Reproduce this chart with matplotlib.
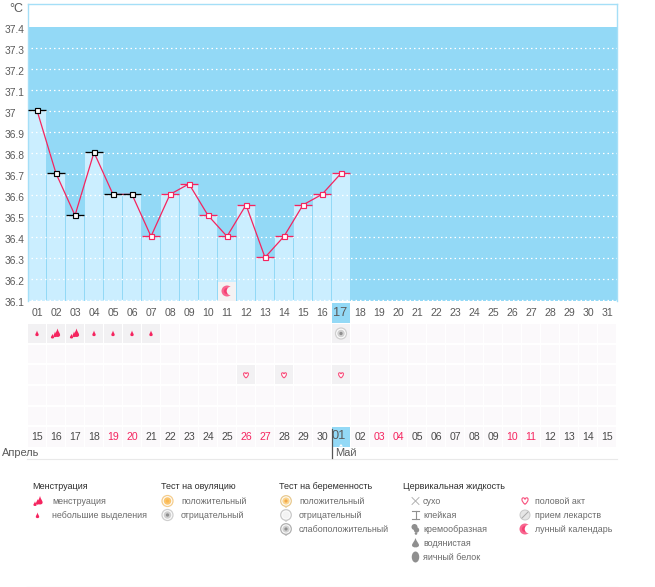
import matplotlib
matplotlib.use("Agg")
import matplotlib.pyplot as plt
from matplotlib.patches import Rectangle, Circle, PathPatch, Polygon, Ellipse
from matplotlib.path import Path

W, H = 655, 587
plt.rcParams['font.family'] = ['Liberation Sans', 'DejaVu Sans']

# ---- data ----
days = list(range(1, 18))
temps = [37.0, 36.7, 36.5, 36.8, 36.6, 36.6, 36.4, 36.6, 36.65, 36.5, 36.4, 36.55, 36.3, 36.4, 36.55, 36.6, 36.7]
n_black = 6  # first days drawn with black markers
y_ticks = [37.4, 37.3, 37.2, 37.1, 37.0, 36.9, 36.8, 36.7, 36.6, 36.5, 36.4, 36.3, 36.2, 36.1]
y_labels = ['37.4', '37.3', '37.2', '37.1', '37', '36.9', '36.8', '36.7', '36.6', '36.5', '36.4', '36.3', '36.2', '36.1']
top_dates = ['%02d' % d for d in range(1, 32)]
bottom_dates = ['15', '16', '17', '18', '19', '20', '21', '22', '23', '24', '25', '26', '27', '28', '29', '30',
                '01', '02', '03', '04', '05', '06', '07', '08', '09', '10', '11', '12', '13', '14', '15']
red_positions = [4, 5, 11, 12, 18, 19, 25, 26]
today = 17
menses_big = [2, 3]
menses_small = [1, 4, 5, 6, 7]
ovulation_neg = [17]
intercourse = [12, 14, 17]
moon_day = 11
n_rows = 5

BLUE = '#93d9f6'
BAR = '#cbeeff'
PINK = '#f5245f'
TXT = '#5a5a5a'
CELL = '#fbf9fb'
CELL_ON = '#f2f1f3'

fig = plt.figure(figsize=(W / 100, H / 100), dpi=100, facecolor='white')


def axes_px(l, t, r, b, **kw):
    ax = fig.add_axes([l / W, 1 - b / H, (r - l) / W, (b - t) / H], **kw)
    ax.set_xticks([])
    ax.set_yticks([])
    return ax


# ---- chart ----
PX = 210.0
ax = axes_px(27.5, 3.5, 616.5, 300.5)
ax.set_xlim(0.5, 31.5)
ax.set_ylim(37 - (300.5 - 110.4) / PX, 37 + (110.4 - 3.5) / PX)
for s in ['top', 'left', 'right']:
    ax.spines[s].set_color('#a5dff7')
    ax.spines[s].set_linewidth(1)
ax.spines['bottom'].set_visible(False)
y0 = ax.get_ylim()[0]
ax.axhspan(y0, 37.398, color=BLUE, lw=0, zorder=1)
ax.bar(days, [t - y0 for t in temps], bottom=y0, width=18 / 19, color=BAR, lw=0, zorder=2)
for v, lab in zip(y_ticks, y_labels):
    if v < 37.4:
        ax.plot([0.7, 31.5], [v - 0.005] * 2, color='white', lw=0.9, dashes=(1.2, 2.4), zorder=3)
    ax.annotate(lab, (0, v - 0.005), xycoords=('axes fraction', 'data'),
                xytext=(-22.5 * 0.72, -2.2 * 0.72), textcoords='offset points', ha='left', va='center',
                fontsize=7.4, color=TXT, annotation_clip=False)
ax.plot(days, temps, color=PINK, lw=0.9, zorder=5)
for i, (d, t) in enumerate(zip(days, temps)):
    c = 'black' if i < n_black else PINK
    ax.plot([d - 0.47, d + 0.47], [t, t], color=c, lw=0.95, zorder=6, solid_capstyle='butt')
    ax.plot([d], [t], marker='s', ms=3.6, mfc='white', mec=c, mew=0.85, zorder=7)
ax.add_patch(Rectangle((moon_day - 0.47, y0), 0.94, 19 / PX, color='#f4f2f3', lw=0, zorder=4))

# ---- day grid ----
row_tops = [324, 344.7, 365.3, 386, 406.7, 427.3]
ov = axes_px(0, 0, W, H)
ov.set_xlim(0, W)
ov.set_ylim(H, 0)
ov.axis('off')
ov.patch.set_alpha(0)
cx = lambda d: 37 + (d - 1) * 19


def drop(x, y, h, w, color=PINK, z=6):
    top, bot = y - h / 2, y + h / 2
    v = [(x, top), (x + w * .15, top + h * .35), (x + w / 2, top + h * .55), (x + w / 2, top + h * .72),
         (x + w / 2, bot + h * .02), (x - w / 2, bot + h * .02), (x - w / 2, top + h * .72),
         (x - w / 2, top + h * .55), (x - w * .15, top + h * .35), (x, top)]
    c = [Path.MOVETO] + [Path.CURVE4] * 9
    ov.add_patch(PathPatch(Path(v, c), fc=color, ec='none', zorder=z))


def big_drop(x, y):
    drop(x + 1.5, y - 0.5, 9, 5.2)
    drop(x - 3.5, y + 2.8, 5, 3.2)
    drop(x - 1, y + 1, 6, 3)


def heart(x, y, s=1.0, z=6):
    v = [(0, 4.2), (-5, 0), (-4.6, -4), (-2, -4), (-1, -4), (-.4, -3), (0, -2),
         (.4, -3), (1, -4), (2, -4), (4.6, -4), (5, 0), (0, 4.2)]
    c = [Path.MOVETO] + [Path.CURVE4] * 12
    v = [(x + a * s * .8, y + b * s * .8) for a, b in v]
    ov.add_patch(PathPatch(Path(v, c), fc='white', ec='#f8527f', lw=0.8, zorder=z))


def moon(x, y, r=5.5, bg='white', z=6):
    ov.add_patch(Circle((x, y), r, fc='#f8658f', ec='none', zorder=z))
    ov.add_patch(Circle((x, y), r * .55, fc='#f5245f', ec='none', zorder=z, alpha=.6))
    ov.add_patch(Circle((x + r * .75, y), r * .8, fc=bg, ec='none', zorder=z + 1))


def disc(x, y, outer, ring, inner, r=5.5, z=6):
    ov.add_patch(Circle((x, y), r, fc='#fdfdfd', ec=ring, lw=0.9, zorder=z))
    ov.add_patch(Circle((x, y), r * .68, fc=outer, ec='none', zorder=z))
    ov.add_patch(Circle((x, y), r * .3, fc=inner, ec='none', zorder=z))


for r in range(n_rows + 1):
    for d in range(1, 32):
        ov.add_patch(Rectangle((cx(d) - 9, row_tops[r]), 18, 18.7 if r < n_rows else 19.5, fc=CELL, ec='none', zorder=1))
for d in menses_big + menses_small + ovulation_neg:
    ov.add_patch(Rectangle((cx(d) - 9, row_tops[0]), 18, 18.7, fc=CELL_ON, ec='none', zorder=2))
for d in intercourse:
    ov.add_patch(Rectangle((cx(d) - 9, row_tops[2]), 18, 18.7, fc=CELL_ON, ec='none', zorder=2))
for d in menses_big:
    big_drop(cx(d), row_tops[0] + 9.5)
for d in menses_small:
    drop(cx(d), row_tops[0] + 9.5, 6, 3.4)
for d in ovulation_neg:
    disc(cx(d), row_tops[0] + 9.5, '#d0d0d0', '#cfcfcf', '#8f8f8f')
for d in intercourse:
    heart(cx(d), row_tops[2] + 10, 0.8)
moon(cx(moon_day), 291, 5.5, bg='#f4f2f3')

# date rows
ov.add_patch(Rectangle((cx(today) - 9, 303), 18, 20, fc=BLUE, ec='none', zorder=3))
ov.add_patch(Rectangle((cx(today) - 9, 427), 18, 19.5, fc=BLUE, ec='none', zorder=3))
ov.add_patch(Polygon([(cx(today) - 2, 446.5), (cx(today) + 2, 446.5), (cx(today), 444)], fc='white', ec='none', zorder=4))
for i, lab in enumerate(top_dates):
    big = (i + 1 == today)
    ov.text(cx(i + 1) - (1 if big else 0), 312.8, lab, ha='center', va='center',
            fontsize=9.2 if big else 7.6, color=TXT, zorder=6)
for i, lab in enumerate(bottom_dates):
    big = (i + 1 == today)
    col = PINK if i in red_positions else ('#4a4a4a' if not big else TXT)
    ov.text(cx(i + 1) - (2 if big else 0), 437.3 if not big else 436, lab, ha='center', va='center',
            fontsize=9.2 if big else 7.6, color=col, zorder=6)
ov.plot([331.5, 331.5], [429, 457.5], color='#555555', lw=0.9, zorder=7)
ov.text(2, 453.5, 'Апрель', ha='left', va='center', fontsize=7.9, color=TXT)
ov.text(335, 453.5, 'Май', ha='left', va='center', fontsize=7.9, color=TXT)
ov.plot([27, 617], [458.5, 458.5], color='#e9e9e9', lw=0.8)
ov.plot([27, 617], [586.5, 586.5], color='#e9e9e9', lw=0.8)
ov.text(9, 8.5, '°C', ha='left', va='center', fontsize=9, color=TXT)

# ---- legend ----
heads = [(32, 'Менструация'), (161, 'Тест на овуляцию'), (279, 'Тест на беременность'), (403, 'Цервикальная жидкость')]
for x, t in heads:
    ov.text(x, 486.5, t, ha='left', va='center', fontsize=6.45, color='#2e2e2e')
columns = [
    (52, ['менструация', 'небольшие выделения']),
    (181, ['положительный', 'отрицательный']),
    (299, ['положительный', 'отрицательный', 'слабоположительный']),
    (423, ['сухо', 'клейкая', 'кремообразная', 'водянистая', 'яичный белок']),
    (535, ['половой акт', 'прием лекарств', 'лунный календарь']),
]
ys = [501, 515, 529, 543, 557]
for x, items in columns:
    for y, t in zip(ys, items):
        ov.text(x, y, t, ha='left', va='center', fontsize=6.4, color='#6a6a6a')

GR = '#8f8f8f'
big_drop(38.5, ys[0])
drop(37.5, ys[1] + .5, 6, 3.4)
disc(167.5, ys[0], '#fbc56d', '#f5cd8d', '#fbb850', 5.5)
disc(167.5, ys[1], '#cfcfcf', '#cfcfcf', '#8f8f8f', 5.5)
for y, fc, ring, inner in [(ys[0], '#fbd58d', '#e8c98f', '#f3a94a'), (ys[1], '#f3f3f3', '#c8c8c8', '#f3f3f3'),
                           (ys[2], '#d0d0d0', '#b0b0b0', '#8f8f8f')]:
    ov.add_patch(Polygon([(283, y + 3), (289, y + 3), (286, y + 6.5)], fc='white', ec=ring, lw=0.7, zorder=5))
    disc(286, y, fc, ring, inner, 5.3)
# cervical icons
ov.plot([412, 419], [ys[0] - 3.5, ys[0] + 3.5], color='#a8a8a8', lw=0.6)
ov.plot([412, 419], [ys[0] + 3.5, ys[0] - 3.5], color='#a8a8a8', lw=0.6)
ov.plot([412, 419], [ys[1] - 4, ys[1] - 4], color=GR, lw=0.8)
ov.plot([412, 419], [ys[1] + 4, ys[1] + 4], color=GR, lw=0.8)
ov.plot([415.5, 415.5], [ys[1] - 4, ys[1] + 4], color=GR, lw=0.8)
ov.add_patch(Circle((414.5, ys[2] - 2), 3, fc=GR, ec='none'))
ov.add_patch(Circle((416.5, ys[2] + 1), 2.7, fc=GR, ec='none'))
ov.add_patch(Circle((416, ys[2] + 4.5), 1.3, fc=GR, ec='none'))
drop(415.5, ys[3], 10, 7, GR)
ov.add_patch(Ellipse((415.5, ys[4]), 7.5, 11, fc=GR, ec='none'))
heart(525, ys[0], 1.0)
ov.add_patch(Circle((525, ys[1]), 5, fc='#e6e6e6', ec='#c9c9c9', lw=0.7))
ov.plot([522, 528], [ys[1] + 3, ys[1] - 3], color='#a8a8a8', lw=0.7)
moon(525, ys[2], 5.5)

fig.savefig('out.png', dpi=100, facecolor='white')
